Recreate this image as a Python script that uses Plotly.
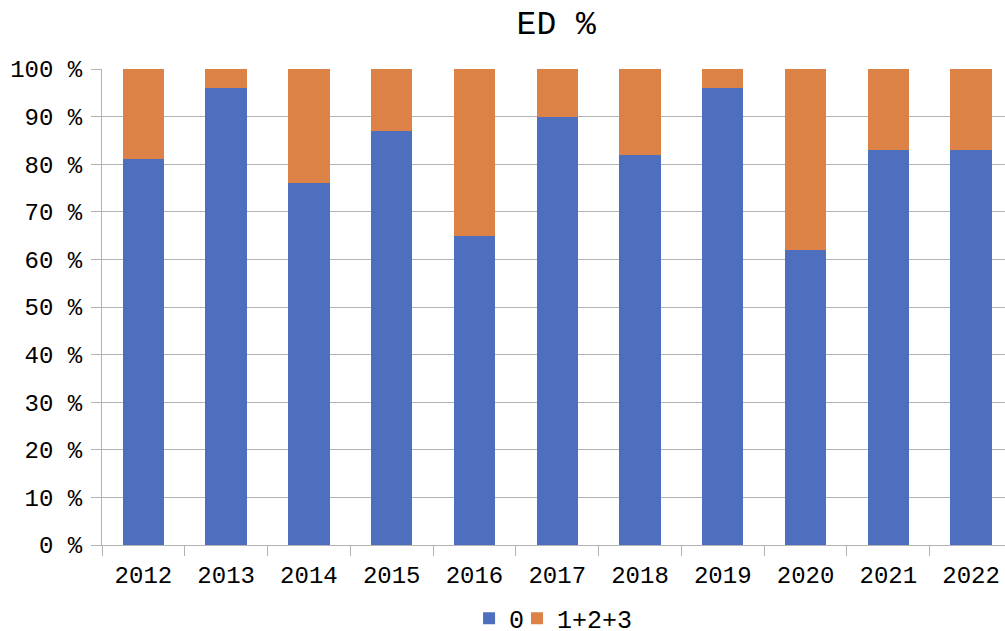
import plotly.graph_objects as go

years = ["2012", "2013", "2014", "2015", "2016", "2017", "2018", "2019", "2020", "2021", "2022"]
zero = [81, 96, 76, 87, 65, 90, 82, 96, 62, 83, 83]
rest = [19, 4, 24, 13, 35, 10, 18, 4, 38, 17, 17]

font = "Liberation Mono"
fig = go.Figure()
fig.add_trace(go.Bar(x=years, y=zero, name="0", legend="legend",
                     marker=dict(color="#4e6fbe", line=dict(width=0))))
fig.add_trace(go.Bar(x=years, y=rest, name="1+2+3", legend="legend2",
                     marker=dict(color="#dc8247", line=dict(width=0))))

leg_common = dict(orientation="h", y=-0.1545, yanchor="middle", xanchor="left",
                  font=dict(family=font, size=25), itemwidth=30, bgcolor="rgba(0,0,0,0)")

fig.update_layout(
    barmode="stack",
    bargap=0.5,
    width=1005, height=631,
    margin=dict(l=102, r=0, t=69, b=86, autoexpand=False),
    plot_bgcolor="white", paper_bgcolor="white",
    font=dict(family=font, size=24, color="#000000"),
    title=dict(text="ED %", xref="paper", x=0.503, xanchor="center", y=0.965, yanchor="middle",
               font=dict(family=font, size=33, color="#000000")),
    showlegend=True,
    legend=dict(x=0.4065, **leg_common),
    legend2=dict(x=0.4596, **leg_common),
    hovermode=False,
)
fig.update_yaxes(range=[0, 100], dtick=10, ticksuffix=" %", showgrid=True, gridcolor="#b3b3b3",
                 gridwidth=1, ticks="outside", ticklen=10, tickcolor="#b3b3b3",
                 showline=True, linecolor="#b3b3b3", zeroline=False, tickfont=dict(size=24),
                 automargin=False, ticklabelstandoff=4)
fig.update_xaxes(range=[-0.5, 10.41], showline=True, linecolor="#b3b3b3", ticks="outside",
                 tickson="boundaries", ticklen=10, tickcolor="#b3b3b3", showgrid=False,
                 tickfont=dict(size=24), automargin=False, ticklabelstandoff=8)

fig.write_html("out.html", config={"displayModeBar": False},
               post_script="document.body.style.margin='0';document.body.style.overflow='hidden';")
